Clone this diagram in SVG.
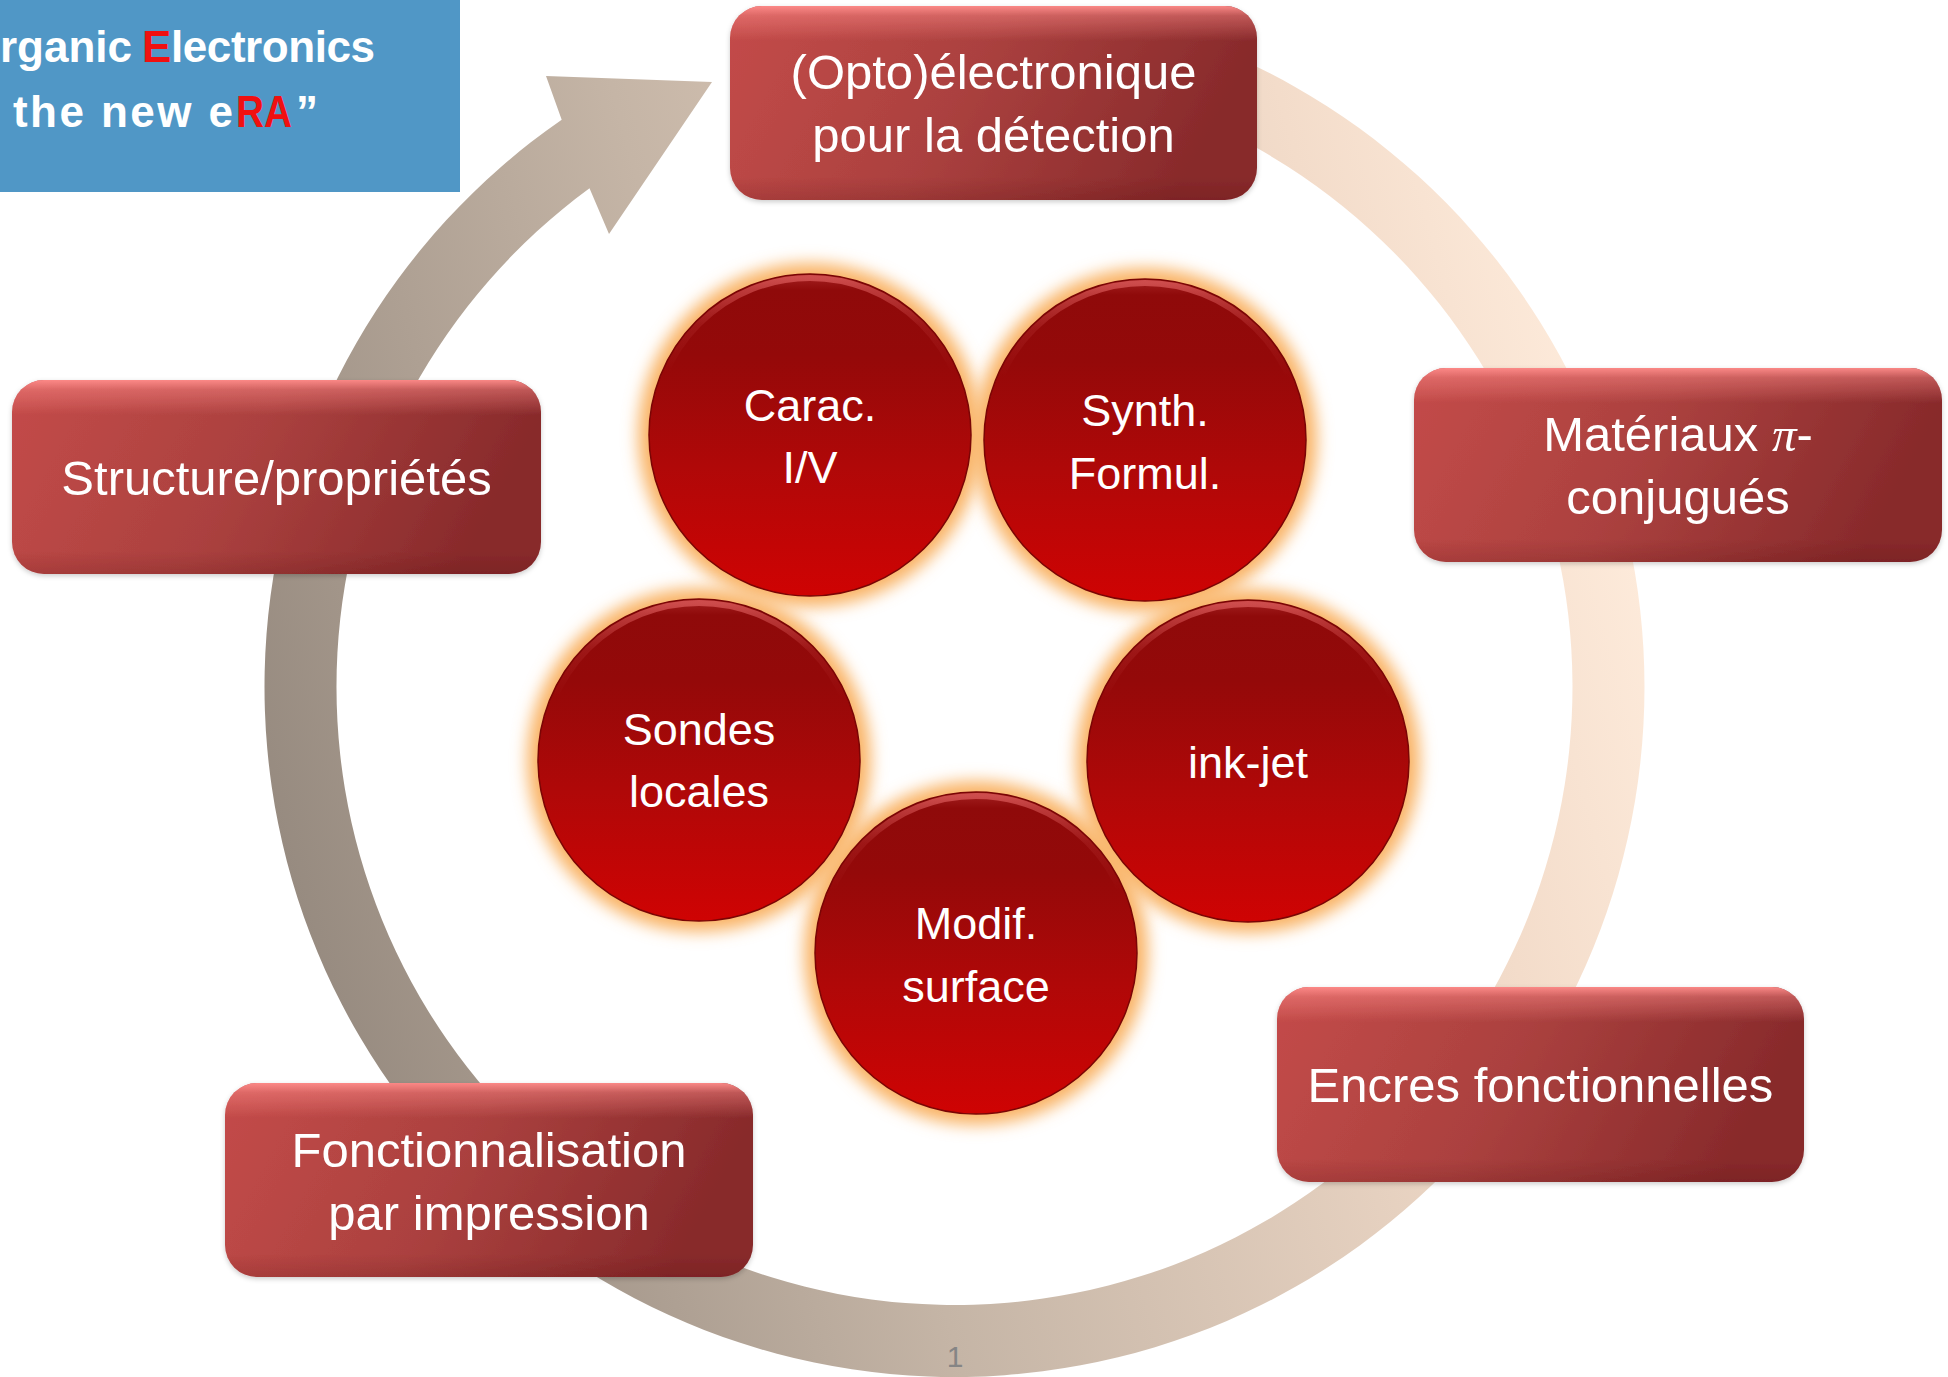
<svg xmlns="http://www.w3.org/2000/svg" width="1948" height="1377" viewBox="0 0 1948 1377">
  <defs>
    <style>
      .box-label { font-family: "Liberation Sans", Arial, sans-serif; font-size: 49px; fill: #FFFFFF; text-anchor: middle; }
      .circ-label { font-family: "Liberation Sans", Arial, sans-serif; font-size: 45px; fill: #FFFFFF; text-anchor: middle; }
      .logo-text { font-family: "Liberation Sans", Arial, sans-serif; font-size: 44px; font-weight: bold; fill: #FFFFFF; }
      .red { fill: #F01010; }
      .box-base { fill: url(#boxBase); }
      .box-gloss { fill: url(#boxGloss); }
      .circ-base { fill: url(#circBase); stroke: #7A0505; stroke-width: 1.5; }
      .circ-rim { fill: none; stroke: url(#circRim); stroke-width: 6; }
      .glow { fill: #F9B466; filter: url(#blurGlow); }
    </style>
    <linearGradient id="ringGrad" gradientUnits="userSpaceOnUse" x1="288.5" y1="868.5" x2="1620.5" y2="505.5">
      <stop offset="0" stop-color="#978B80"/>
      <stop offset="0.375" stop-color="#C5B5A6"/>
      <stop offset="0.84" stop-color="#F3DCCA"/>
      <stop offset="1" stop-color="#FDEADA"/>
    </linearGradient>
    <linearGradient id="boxBase" x1="0" y1="0" x2="1" y2="0.2">
      <stop offset="0" stop-color="#C44B49"/>
      <stop offset="0.5" stop-color="#AB413F"/>
      <stop offset="1" stop-color="#882A2B"/>
    </linearGradient>
    <linearGradient id="boxGloss" x1="0" y1="0" x2="0" y2="1">
      <stop offset="0" stop-color="#FF8C8A" stop-opacity="0.95"/>
      <stop offset="0.05" stop-color="#FF8C8A" stop-opacity="0.45"/>
      <stop offset="0.18" stop-color="#FF8C8A" stop-opacity="0"/>
      <stop offset="0.88" stop-color="#400000" stop-opacity="0"/>
      <stop offset="1" stop-color="#400000" stop-opacity="0.15"/>
    </linearGradient>
    <linearGradient id="circBase" x1="0" y1="0" x2="0" y2="1">
      <stop offset="0" stop-color="#A52222"/>
      <stop offset="0.05" stop-color="#8F0A0A"/>
      <stop offset="0.25" stop-color="#940909"/>
      <stop offset="0.6" stop-color="#B00808"/>
      <stop offset="1" stop-color="#CF0303"/>
    </linearGradient>
    <linearGradient id="circRim" x1="0" y1="0" x2="0" y2="1">
      <stop offset="0" stop-color="#E06060" stop-opacity="0.7"/>
      <stop offset="0.15" stop-color="#E06060" stop-opacity="0.15"/>
      <stop offset="0.3" stop-color="#E06060" stop-opacity="0"/>
      <stop offset="1" stop-color="#E06060" stop-opacity="0"/>
    </linearGradient>
    <filter id="blurGlow" x="-20%" y="-20%" width="140%" height="140%">
      <feGaussianBlur stdDeviation="8"/>
    </filter>
    <filter id="boxShadow" x="-5%" y="-10%" width="110%" height="125%">
      <feDropShadow dx="0" dy="2" stdDeviation="2.5" flood-color="#000000" flood-opacity="0.2"/>
    </filter>
  </defs>

  <rect width="1948" height="1377" fill="#FFFFFF"/>

  <!-- logo -->
  <g id="logo">
    <rect x="0" y="0" width="460" height="192" fill="#5097C6"/>
    <text class="logo-text" x="0" y="62">rganic</text>
    <text class="logo-text red" x="142" y="62">E</text>
    <text class="logo-text" x="171" y="62" textLength="204" lengthAdjust="spacing">lectronics</text>
    <text class="logo-text" x="13" y="127" textLength="220" lengthAdjust="spacing">the new e</text>
    <text class="logo-text red" x="236" y="127" textLength="56" lengthAdjust="spacingAndGlyphs">RA</text>
    <text class="logo-text" x="296" y="127">”</text>
  </g>

  <!-- connectors: circular arrow -->
  <g id="connectors">
    <path id="cycle-arrow" fill="url(#ringGrad)" d="M 1190.5 38.6 A 690 690 0 1 1 561.7 119.7 L 546 76 L 712 82 L 609 234 L 589.5 188.3 A 618 618 0 1 0 1165.9 106.3 Z"/>
  </g>

  <!-- page number -->
  <g id="page-number">
    <text x="955" y="1367" font-family="Liberation Sans, Arial, sans-serif" font-size="30" fill="#858585" text-anchor="middle">1</text>
  </g>

  <!-- boxes -->
  <g id="box-opto" filter="url(#boxShadow)">
    <rect class="box-base" x="730" y="6" width="527" height="194" rx="32"/>
    <rect class="box-gloss" x="730" y="6" width="527" height="194" rx="32"/>
    <text class="box-label" x="993.5" y="89">(Opto)électronique</text>
    <text class="box-label" x="993.5" y="152">pour la détection</text>
  </g>
  <g id="box-structure" filter="url(#boxShadow)">
    <rect class="box-base" x="12" y="380" width="529" height="194" rx="32"/>
    <rect class="box-gloss" x="12" y="380" width="529" height="194" rx="32"/>
    <text class="box-label" x="276.5" y="495">Structure/propriétés</text>
  </g>
  <g id="box-materiaux" filter="url(#boxShadow)">
    <rect class="box-base" x="1414" y="368" width="528" height="194" rx="32"/>
    <rect class="box-gloss" x="1414" y="368" width="528" height="194" rx="32"/>
    <text class="box-label" x="1678" y="451">Matériaux <tspan font-family="Liberation Serif, serif" font-style="italic">π</tspan>-</text>
    <text class="box-label" x="1678" y="514">conjugués</text>
  </g>
  <g id="box-encres" filter="url(#boxShadow)">
    <rect class="box-base" x="1277" y="987" width="527" height="195" rx="32"/>
    <rect class="box-gloss" x="1277" y="987" width="527" height="195" rx="32"/>
    <text class="box-label" x="1540.5" y="1102">Encres fonctionnelles</text>
  </g>
  <g id="box-fonctionnalisation" filter="url(#boxShadow)">
    <rect class="box-base" x="225" y="1083" width="528" height="194" rx="32"/>
    <rect class="box-gloss" x="225" y="1083" width="528" height="194" rx="32"/>
    <text class="box-label" x="489" y="1167">Fonctionnalisation</text>
    <text class="box-label" x="489" y="1230">par impression</text>
  </g>

  <!-- glows behind circles -->
  <g id="glows">
    <circle class="glow" cx="810" cy="435" r="172"/>
    <circle class="glow" cx="1145" cy="440" r="172"/>
    <circle class="glow" cx="699" cy="760" r="172"/>
    <circle class="glow" cx="1248" cy="761" r="172"/>
    <circle class="glow" cx="976" cy="953" r="172"/>
  </g>

  <!-- circles -->
  <g id="circle-carac">
    <circle class="circ-base" cx="810" cy="435" r="161"/>
    <circle class="circ-rim" cx="810" cy="435" r="157"/>
    <text class="circ-label" x="810" y="421">Carac.</text>
    <text class="circ-label" x="810" y="483">I/V</text>
  </g>
  <g id="circle-synth">
    <circle class="circ-base" cx="1145" cy="440" r="161"/>
    <circle class="circ-rim" cx="1145" cy="440" r="157"/>
    <text class="circ-label" x="1145" y="426">Synth.</text>
    <text class="circ-label" x="1145" y="489">Formul.</text>
  </g>
  <g id="circle-sondes">
    <circle class="circ-base" cx="699" cy="760" r="161"/>
    <circle class="circ-rim" cx="699" cy="760" r="157"/>
    <text class="circ-label" x="699" y="745">Sondes</text>
    <text class="circ-label" x="699" y="807">locales</text>
  </g>
  <g id="circle-inkjet">
    <circle class="circ-base" cx="1248" cy="761" r="161"/>
    <circle class="circ-rim" cx="1248" cy="761" r="157"/>
    <text class="circ-label" x="1248" y="778">ink-jet</text>
  </g>
  <g id="circle-modif">
    <circle class="circ-base" cx="976" cy="953" r="161"/>
    <circle class="circ-rim" cx="976" cy="953" r="157"/>
    <text class="circ-label" x="976" y="939">Modif.</text>
    <text class="circ-label" x="976" y="1002">surface</text>
  </g>
</svg>
